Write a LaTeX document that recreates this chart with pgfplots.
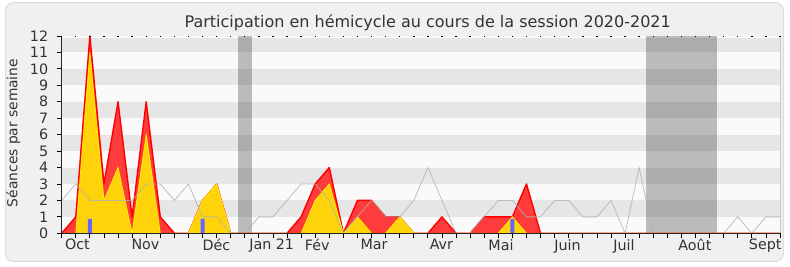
\documentclass[border=0pt]{standalone}
\usepackage{pgfplots}
\pgfplotsset{compat=1.18}
\usepackage{pgfplotstable}
\usepackage{fontspec}
\setmainfont{DejaVu Sans}
\definecolor{bgin}{HTML}{F0F0F0}
\definecolor{framec}{HTML}{DCDCDC}
\definecolor{stripeL}{HTML}{FAFAFA}
\definecolor{stripeD}{HTML}{E6E6E6}
\definecolor{redfill}{HTML}{FF3C3C}
\definecolor{redline}{HTML}{FF0000}
\definecolor{yelfill}{HTML}{FFD30A}
\definecolor{yelline}{HTML}{FFF000}
\definecolor{bluebar}{HTML}{6666FF}
\definecolor{greyline}{HTML}{B0B0B0}
\definecolor{borderR}{HTML}{C8C8C8}
\definecolor{txt}{HTML}{333333}

\pgfplotstableread{
i red yel med
0 0 0 2
1 1 0 3
2 12 11 2
3 3 2 2
4 8 4 2
5 1 0 2
6 8 6 3
7 1 0 3
8 0 0 2
9 0 0 3
10 2 2 1
11 3 3 1
12 0 0 0
13 0 0 0
14 0 0 1
15 0 0 1
16 0 0 2
17 1 0 3
18 3 2 3
19 4 3 2
20 0 0 0
21 2 1 1
22 2 0 2
23 1 0 1
24 1 1 1
25 0 0 2
26 0 0 4
27 1 0 2
28 0 0 0
29 0 0 0
30 1 0 1
31 1 0 2
32 1 1 2
33 3 0 1
34 0 0 1
35 0 0 2
36 0 0 2
37 0 0 1
38 0 0 1
39 0 0 2
40 0 0 0
41 0 0 4
42 0 0 0
43 0 0 0
44 0 0 0
45 0 0 0
46 0 0 0
47 0 0 0
48 0 0 1
49 0 0 0
50 0 0 1
51 0 0 1
}\data

\begin{document}
\begin{tikzpicture}[x=1pt,y=1pt]
\useasboundingbox (0,0) rectangle (790,267);
\fill[white] (0,0) rectangle (790,267);
\draw[framec, fill=bgin, rounded corners=8pt, line width=1pt] (5.5,5.5) rectangle (783.5,264.3);

\begin{axis}[
  at={(61.7pt,33.7pt)}, anchor=south west,
  width=718.3pt, height=197.3pt, scale only axis,
  xmin=0, xmax=51, ymin=0, ymax=12,
  clip=false,
  axis lines*=left,
  axis line style={line width=1.1pt, black!85},
  xtick={0,...,51}, xticklabels={},
  ytick={0,...,12},
  /pgf/number format/assume math mode=true,
  tick align=outside, major tick length=5pt,
  tick style={line width=0.8pt, black},
  ticklabel style={font=\fontsize{14.3}{16}\selectfont, text=txt},
  yticklabel style={xshift=-5pt},
  xticklabel style={yshift=-2.5pt},
  extra x ticks={1.12,5.95,10.99,14.91,18.14,22.18,26.96,31.19,35.92,39.92,44.96,49.95},
  extra x tick labels={Oct,Nov,Déc,Jan 21,Fév,Mar,Avr,Mai,Juin,Juil,Août,Sept},
  extra x tick style={major tick length=0pt, tick style={draw=none}},
  axis on top,
]
\fill[stripeL] (axis cs:0,0) rectangle (axis cs:51,12);
\fill[stripeD] (axis cs:0,1) rectangle (axis cs:51,2);
\fill[stripeD] (axis cs:0,3) rectangle (axis cs:51,4);
\fill[stripeD] (axis cs:0,5) rectangle (axis cs:51,6);
\fill[stripeD] (axis cs:0,7) rectangle (axis cs:51,8);
\fill[stripeD] (axis cs:0,9) rectangle (axis cs:51,10);
\fill[stripeD] (axis cs:0,11) rectangle (axis cs:51,11.88);
\fill[black, opacity=0.25] (axis cs:12.5,0) rectangle (axis cs:13.5,12);
\fill[black, opacity=0.25] (axis cs:41.5,0) rectangle (axis cs:46.5,12);
\draw[borderR, line width=1pt] (axis cs:51,0) -- (axis cs:51,12);

\addplot[draw=redline, line width=1.4pt, fill=redfill, line join=round] table[x=i,y=red]{\data} \closedcycle;
\addplot[draw=yelline, line width=0.8pt, fill=yelfill] table[x=i,y=yel]{\data} \closedcycle;
\addplot[greyline, line width=0.8pt, opacity=0.8] table[x=i,y=med]{\data};
\addplot[ybar, bar width=4pt, fill=bluebar, draw=none] coordinates {(2,0.88) (10,0.88) (32,0.88)};
\end{axis}

\begin{axis}[
  at={(61.7pt,33.7pt)}, anchor=south west,
  width=718.3pt, height=197.3pt, scale only axis,
  xmin=0, xmax=51, ymin=0, ymax=12,
  axis line style={draw=none},
  xtick={0,...,51}, xticklabels={}, xtick pos=right,
  ytick=\empty,
  tick align=inside, major tick length=1.4pt,
  tick style={line width=1.4pt, black},
]
\end{axis}

\node[anchor=base, font=\fontsize{16}{19}\selectfont, text=txt] at (427.7,239.7) {Participation en hémicycle au cours de la session 2020-2021};
\node[rotate=90, font=\fontsize{13.8}{16}\selectfont, text=txt] at (13.3,134) {Séances par semaine};
\end{tikzpicture}
\end{document}
